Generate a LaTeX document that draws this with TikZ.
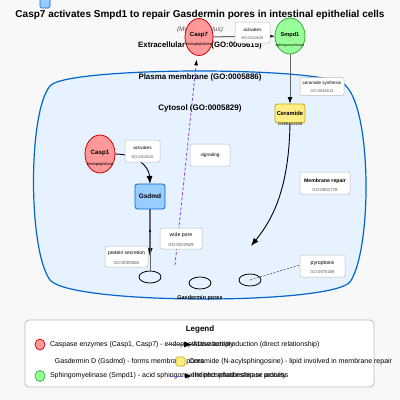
\documentclass[tikz,border=0pt]{standalone}
\usepackage{fontspec}
\setmainfont{Liberation Sans}
\usetikzlibrary{arrows.meta,shapes.geometric}
\newcommand\myfs[1]{\fontsize{#1pt}{#1pt}\selectfont}
\definecolor{bgc}{HTML}{F8F8F8}
\definecolor{membf}{HTML}{E6F2FF}
\definecolor{membb}{HTML}{0066CC}
\definecolor{caspf}{HTML}{FF9999}
\definecolor{caspb}{HTML}{CC0000}
\definecolor{smpf}{HTML}{99FF99}
\definecolor{smpb}{HTML}{33AA33}
\definecolor{gsdf}{HTML}{99CCFF}
\definecolor{gsdb}{HTML}{0066CC}
\definecolor{cerf}{HTML}{FFEE88}
\definecolor{cerb}{HTML}{CCAA00}
\definecolor{boxb}{HTML}{BBBBBB}
\definecolor{edgec}{HTML}{666666}
\definecolor{idc}{HTML}{555555}
\definecolor{purp}{HTML}{8844DD}
\begin{document}
\begin{tikzpicture}[x=1pt,y=-1pt,
  every node/.style={inner sep=0pt,outer sep=0pt},
  txt/.style={font=\myfs{#1}},
  btxt/.style={font=\bfseries\myfs{#1}},
  idtxt/.style={font=\myfs{#1},text=idc},
  enz/.style={ellipse,draw=caspb,fill=caspf,line width=0.8pt,minimum width=28pt,minimum height=37pt},
  smp/.style={ellipse,draw=smpb,fill=smpf,line width=0.8pt,minimum width=30pt,minimum height=36pt},
  gsd/.style={rectangle,rounded corners=2.5pt,draw=gsdb,fill=gsdf,line width=0.8pt,minimum width=30pt,minimum height=25pt},
  cer/.style={rectangle,rounded corners=2.5pt,draw=cerb,fill=cerf,line width=0.8pt,minimum width=30pt,minimum height=19pt},
  lbox/.style={rectangle,rounded corners=2pt,draw=boxb,fill=white,line width=0.5pt},
  pore/.style={ellipse,draw=black,line width=0.8pt,minimum width=22pt,minimum height=12pt},
  edge/.style={draw=edgec,line width=1pt,-{Latex[color=black,length=7pt,width=5pt]}},
  blk/.style={draw=black,line width=0.9pt,-{Latex[color=black,length=8pt,width=6pt]}},
  sig/.style={draw=purp,line width=0.8pt,dash pattern=on 3pt off 2pt,-{Latex[color=black,length=6pt,width=4pt]}}
]
\fill[bgc] (0,0) rectangle (400,400);
\useasboundingbox (0,0) rectangle (400,400);

% stray legend icon
\node[gsd,minimum width=10pt,minimum height=10pt,rounded corners=1.5pt,line width=0.7pt] (legGsd) at (45,3) {};

% title
\node[btxt=10] (title) at (200,15) {Casp7 activates Smpd1 to repair Gasdermin pores in intestinal epithelial cells};
\node[font=\itshape\myfs{6.5},text=idc] (species) at (200,30) {(Mus musculus)};
\node[btxt=7.8] (extra) at (200,45) {Extracellular space (GO:0005615)};

% membrane
\draw[draw=membb,fill=membf,line width=1.2pt]
  (50,86) .. controls (65,66) and (335,66) .. (346,86)
  .. controls (372,112) and (372,250) .. (350,282)
  .. controls (330,305) and (70,305) .. (50,280)
  .. controls (28,250) and (28,112) .. cycle;
\node[btxt=7.9] (pm) at (200,77) {Plasma membrane (GO:0005886)};
\node[btxt=8] (cyto) at (200,108) {Cytosol (GO:0005829)};

% nodes
\node[enz] (casp7) at (199,37) {};
\node[btxt=6] (casp7t) at (199,35.5) {Casp7};
\node[txt=4] (casp7s) at (199,44) {endopeptidase};

\node[smp] (smpd1) at (290,36) {};
\node[btxt=5.6] (smpd1t) at (290,35) {Smpd1};
\node[txt=3.6] (smpd1s) at (290,45.5) {sphingomyelinase};

\node[enz,minimum width=30pt,minimum height=38pt] (casp1) at (100,154) {};
\node[btxt=6.2] (casp1t) at (100,153) {Casp1};
\node[txt=4] (casp1s) at (100,164) {endopeptidase};

\node[gsd] (gsdmd) at (150,196.5) {};
\node[btxt=6.5] (gsdmdt) at (150,196.5) {Gsdmd};

\node[cer] (ceramide) at (290,113.5) {};
\node[btxt=5.8] (ceramidet) at (290,113.5) {Ceramide};
\node[txt=4] (ceramides) at (290,124) {CHEBI:52639};

\node[pore] (pore1) at (150,277) {};
\node[pore] (pore2) at (200,283) {};
\node[pore] (pore3) at (250,280) {};
\node[btxt=5.5] (gpores) at (200,298) {Gasdermin pores};

\coordinate (sigStart) at (175,265);
\coordinate (cerEnd) at (251,246);

% edges
\draw[edge] (casp7) -- (smpd1);
\draw[edge] (smpd1) -- (ceramide);
\draw[blk] (casp1.east) .. controls (136,154) and (149,166) .. (gsdmd.north);
\draw[draw=edgec,line width=1.4pt,-{Latex[color=black,length=9pt,width=5.5pt]},shorten >=14pt] (gsdmd) -- (pore1);
\draw[draw=edgec,line width=0.6pt,-{Latex[color=black,length=3pt,width=2.5pt]},shorten >=20pt] (pore1) -- (gsdmd);
\draw[blk] (ceramide.south) .. controls (289,190) and (272,220) .. (cerEnd);
\draw[sig,shorten >=4pt] (sigStart) -- (casp7);

% edge label boxes
\node[lbox,minimum width=35pt,minimum height=21pt] (act1) at (252.5,32.5) {};
\node[txt=4.6] (act1a) at (252.5,29.5) {activates};
\node[idtxt=3.8] (act1b) at (252.5,38.5) {RO:0002629};

\node[lbox,minimum width=44pt,minimum height=18pt] (cersyn) at (322,86.5) {};
\node[txt=4.5] (cersyna) at (322,83) {ceramide synthesis};
\node[idtxt=4] (cersynb) at (322,91.5) {GO:0046513};

\node[lbox,minimum width=35pt,minimum height=22pt] (act2) at (142.5,151) {};
\node[txt=4.6] (act2a) at (142.5,148) {activates};
\node[idtxt=3.8] (act2b) at (142.5,157) {RO:0002629};

\node[lbox,minimum width=40pt,minimum height=22pt] (signal) at (210,155) {};
\node[txt=4.8] (signalt) at (210,155) {signaling};

\node[lbox,minimum width=50pt,minimum height=22pt] (repair) at (325,183) {};
\node[btxt=5.2] (repaira) at (325,181) {Membrane repair};
\node[idtxt=4.4] (repairb) at (325,190) {GO:0001778};

\node[lbox,minimum width=42pt,minimum height=21pt] (wide) at (181,238.5) {};
\node[txt=5.2] (widea) at (181,235.5) {wide pore};
\node[idtxt=4.4] (wideb) at (181,244.5) {GO:0022829};

\node[lbox,minimum width=43pt,minimum height=21pt] (secr) at (126.5,256.5) {};
\node[txt=5] (secra) at (126.5,253.5) {protein secretion};
\node[idtxt=4.4] (secrb) at (126.5,262.5) {GO:0009306};

\draw[draw=idc,line width=0.6pt,dash pattern=on 2pt off 1.5pt] (pore3.center) -- (300,265);
\node[lbox,minimum width=45pt,minimum height=22pt] (pyro) at (322.5,266) {};
\node[txt=5.2] (pyroa) at (322.5,263) {pyroptosis};
\node[idtxt=4.2] (pyrob) at (322.5,272.5) {GO:0070269};

% legend
\node[lbox,draw=boxb,line width=0.8pt,rounded corners=4pt,minimum width=349pt,minimum height=67pt] (legend) at (199.5,353.5) {};
\node[btxt=8] (legendt) at (200,329) {Legend};
\node[enz,minimum width=10pt,minimum height=11pt,line width=0.7pt] (legC) at (40,344.5) {};
\node[txt=7,anchor=west] (legCt) at (50,344.5) {Caspase enzymes (Casp1, Casp7) - endopeptidase activity};
\coordinate (legA0) at (168,344.5);
\coordinate (legA1) at (192,344.5);
\draw[draw=edgec,line width=1pt,-{Latex[color=black,length=8pt,width=6pt]}] (legA0) -- (legA1);
\node[txt=7,anchor=west] (legAt) at (193,344.5) {Activation/production (direct relationship)};
\node[txt=7,anchor=west] (legGt) at (55,362) {Gasdermin D (Gsdmd) - forms membrane pores};
\node[cer,minimum width=9pt,minimum height=9pt,rounded corners=1.5pt,line width=0.7pt] (legR) at (180.5,361.5) {};
\node[txt=7,anchor=west] (legRt) at (189,362) {Ceramide (N-acylsphingosine) - lipid involved in membrane repair};
\node[smp,minimum width=10pt,minimum height=11pt,line width=0.7pt] (legS) at (40,376) {};
\node[txt=7,anchor=west] (legSt) at (50,376) {Sphingomyelinase (Smpd1) - acid sphingomyelin phosphodiesterase activity};
\coordinate (legI0) at (170,376);
\coordinate (legI1) at (192,376);
\draw[sig,-{Latex[color=black,length=7pt,width=5pt]}] (legI0) -- (legI1);
\node[txt=7,anchor=west] (legIt) at (193,376) {Indirect relationship or process};
\end{tikzpicture}
\end{document}
